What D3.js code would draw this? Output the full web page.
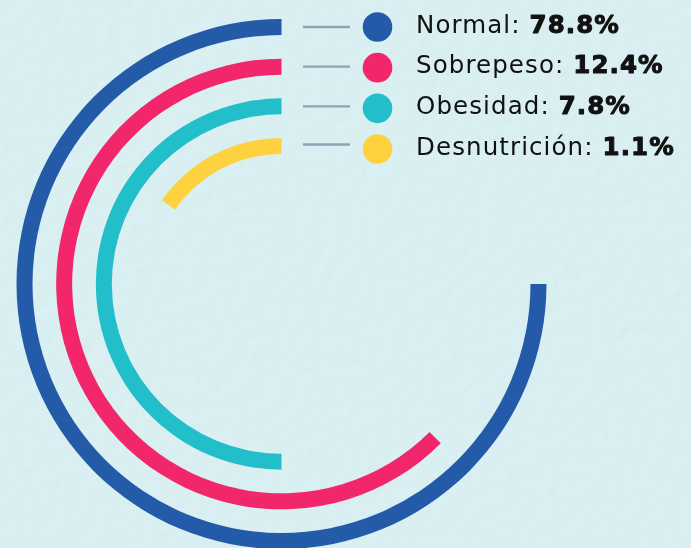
<!DOCTYPE html>
<html><head><meta charset="utf-8">
<script src="https://cdn.jsdelivr.net/npm/d3@7"></script>
<style>html,body{margin:0;padding:0;background:#dbf0f3;overflow:hidden}</style>
</head><body>
<svg id="c" width="691" height="548"></svg>
<script>
const categories = ["Normal", "Sobrepeso", "Obesidad", "Desnutrición"];
const values = [78.8, 12.4, 7.8, 1.1];
const valueLabels = ["78.8%", "12.4%", "7.8%", "1.1%"];
const arcSweepDeg = [270, 225, 180, 55];
const colors = ["#235ba8", "#f2266a", "#22bfca", "#fdd23e"];

const W = 691, H = 548;
const svg = d3.select("#c");
const defs = svg.append("defs");
const f = defs.append("filter").attr("id","tex").attr("x",0).attr("y",0).attr("width","100%").attr("height","100%");
f.append("feTurbulence").attr("type","fractalNoise").attr("baseFrequency",0.07).attr("numOctaves",3).attr("seed",4).attr("result","n");
f.append("feDiffuseLighting").attr("in","n").attr("lighting-color","#ffffff").attr("surfaceScale",1.0).attr("result","l")
  .append("feDistantLight").attr("azimuth",225).attr("elevation",65);
svg.append("rect").attr("width",W).attr("height",H).attr("fill","#dcf1f4");
svg.append("rect").attr("width",W).attr("height",H).attr("filter","url(#tex)").attr("opacity",0.22)
  .style("mix-blend-mode","multiply");

const cx = 281.5, cy = 284;
const ring = d3.scalePoint().domain(categories).range([257, 138]);
const bandW = 16;
const ang = d3.scaleLinear().domain([0, 360]).range([0, 2*Math.PI]);
const arc = d3.arc();
const g = svg.append("g").attr("transform", `translate(${cx},${cy})`);
categories.forEach((c, i) => {
  const r = ring(c);
  g.append("path").attr("fill", colors[i]).attr("d", arc({
    innerRadius: r - bandW/2, outerRadius: r + bandW/2,
    startAngle: ang(360 - arcSweepDeg[i]), endAngle: ang(360)
  }));
});

const legendY = d3.scalePoint().domain(categories).range([27, 149]);
const leg = svg.append("g");
categories.forEach((c, i) => {
  const y = legendY(c);
  const ly = Math.min(cy - ring(c), 144.5);
  leg.append("line").attr("x1",303).attr("x2",350).attr("y1",ly).attr("y2",ly)
    .attr("stroke","#8aa6b4").attr("stroke-width",2.4);
  leg.append("circle").attr("cx",377.5).attr("cy",y).attr("r",14.8).attr("fill",colors[i]);
  const t = leg.append("text").attr("x",416).attr("y",y+5.5)
    .attr("font-family","'DejaVu Sans', sans-serif").attr("font-size",24.5)
    .attr("letter-spacing",1.1).attr("fill","#111");
  t.append("tspan").attr("font-weight",400).text(c + ": ");
  t.append("tspan").attr("font-weight",900).attr("stroke","#111").attr("stroke-width",1.0)
    .attr("stroke-linejoin","round").text(valueLabels[i]);
});
</script>
</body></html>
